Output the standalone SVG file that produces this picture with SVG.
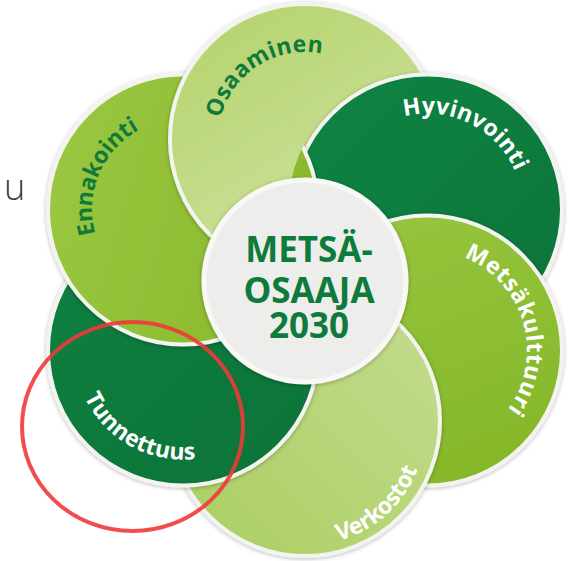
<svg xmlns="http://www.w3.org/2000/svg" xmlns:xlink="http://www.w3.org/1999/xlink" width="572" height="561" viewBox="0 0 572 561">
<style>
.petal{stroke:#F3F4F0;stroke-width:4;filter:url(#sh)}
.lbl{font-family:"Open Sans","Liberation Sans",sans-serif;font-size:23px;font-weight:700;letter-spacing:0.2px}
.dk{fill:#0E7A3B}
.wt{fill:#FFFFFF}
.ctr{font-family:"Open Sans","Liberation Sans",sans-serif;font-size:35px;font-weight:700;fill:#0E7A3B;text-anchor:middle}
</style>
<defs>
<filter id="sh" x="-20%" y="-20%" width="140%" height="140%">
<feDropShadow dx="0" dy="1" stdDeviation="2.2" flood-color="#000" flood-opacity="0.28"/>
</filter>
<linearGradient id="gOsa" x1="0" y1="0" x2="0.6" y2="1"><stop offset="0" stop-color="#B3D268"/><stop offset="1" stop-color="#CFE2A2"/></linearGradient>
<linearGradient id="gHyv" x1="0" y1="0" x2="1" y2="1"><stop offset="0" stop-color="#0F8544"/><stop offset="1" stop-color="#0A7339"/></linearGradient>
<linearGradient id="gMet" x1="0" y1="0" x2="0.4" y2="1"><stop offset="0" stop-color="#98C63F"/><stop offset="1" stop-color="#86B82B"/></linearGradient>
<linearGradient id="gVer" x1="1" y1="0" x2="0" y2="1"><stop offset="0" stop-color="#C4DC90"/><stop offset="1" stop-color="#AACE60"/></linearGradient>
<linearGradient id="gTun" x1="0" y1="0" x2="1" y2="1"><stop offset="0" stop-color="#0D8041"/><stop offset="1" stop-color="#097338"/></linearGradient>
<linearGradient id="gEnn" x1="0" y1="0" x2="1" y2="0.3"><stop offset="0" stop-color="#9CC842"/><stop offset="1" stop-color="#8AB92E"/></linearGradient>
<path id="pOsa" d="M220.1,157.8 A87,87 0 0 1 358.0,70.0"/>
<path id="pHyv" d="M360.8,140.0 A96,96 0 0 1 522.4,220.2"/>
<path id="pMet" d="M425.3,250.5 A100,100 0 0 1 478.5,436.2"/>
<path id="pVer" d="M244.3,525.1 A116,116 0 0 0 411.1,374.0"/>
<path id="pTun" d="M75.3,333.5 A109,109 0 0 0 254.5,432.8"/>
<path id="pEnn" d="M121.3,276.4 A91,91 0 0 1 187.3,118.6"/>
<clipPath id="cEnn"><circle cx="183" cy="209.5" r="139"/></clipPath>
<clipPath id="cNotHyv"><path d="M-50,-50 L427,-50 L427,70.5 A139,139 0 0 0 427,348.5 L427,620 L-50,620 Z"/></clipPath>
</defs>
<rect width="572" height="561" fill="#FFFFFF"/>
<text x="4" y="200" font-family="'Open Sans','Liberation Sans',sans-serif" font-size="36" font-weight="300" fill="#3A3A3A">u</text>
<g id="osaaminen">
<circle class="petal" cx="305" cy="139" r="135" fill="url(#gOsa)"/>
<text class="lbl dk"><textPath href="#pOsa" startOffset="50%" text-anchor="middle">Osaaminen</textPath></text>
</g>
<g id="hyvinvointi">
<circle class="petal" cx="427" cy="209.5" r="135" fill="url(#gHyv)"/>
<text class="lbl wt"><textPath href="#pHyv" startOffset="50%" text-anchor="middle">Hyvinvointi</textPath></text>
</g>
<g id="metsakulttuuri">
<circle class="petal" cx="427" cy="350.5" r="135" fill="url(#gMet)"/>
<text class="lbl wt" style="letter-spacing:0.6px"><textPath href="#pMet" startOffset="50%" text-anchor="middle">Metsäkulttuuri</textPath></text>
</g>
<g id="verkostot">
<circle class="petal" cx="305" cy="421" r="135" fill="url(#gVer)"/>
<text class="lbl wt" style="letter-spacing:-0.3px"><textPath href="#pVer" startOffset="50%" text-anchor="middle">Verkostot</textPath></text>
</g>
<g id="tunnettuus">
<circle class="petal" cx="183" cy="350.5" r="135" fill="url(#gTun)"/>
<text class="lbl wt"><textPath href="#pTun" startOffset="50%" text-anchor="middle">Tunnettuus</textPath></text>
</g>
<g id="ennakointi">
<circle class="petal" cx="183" cy="209.5" r="135" fill="url(#gEnn)"/>
<text class="lbl dk" style="letter-spacing:-0.3px"><textPath href="#pEnn" startOffset="50%" text-anchor="middle">Ennakointi</textPath></text>
</g>
<g id="osaaminen-overlap" clip-path="url(#cNotHyv)">
<g clip-path="url(#cEnn)"><use href="#osaaminen"/></g>
</g>
<g id="center">
<circle cx="305" cy="281" r="101" fill="#EDEEEC" stroke="#F8F8F6" stroke-width="5" filter="url(#sh)"/>
<text class="ctr"><tspan x="309" y="262">METSÄ-</tspan><tspan x="309" y="303">OSAAJA</tspan><tspan x="309" y="338">2030</tspan></text>
</g>
<g id="connectors"/>
<ellipse id="highlight" cx="132.5" cy="426.5" rx="110.5" ry="104.5" fill="none" stroke="#F03A3A" stroke-width="4" opacity="0.9"/>
</svg>
